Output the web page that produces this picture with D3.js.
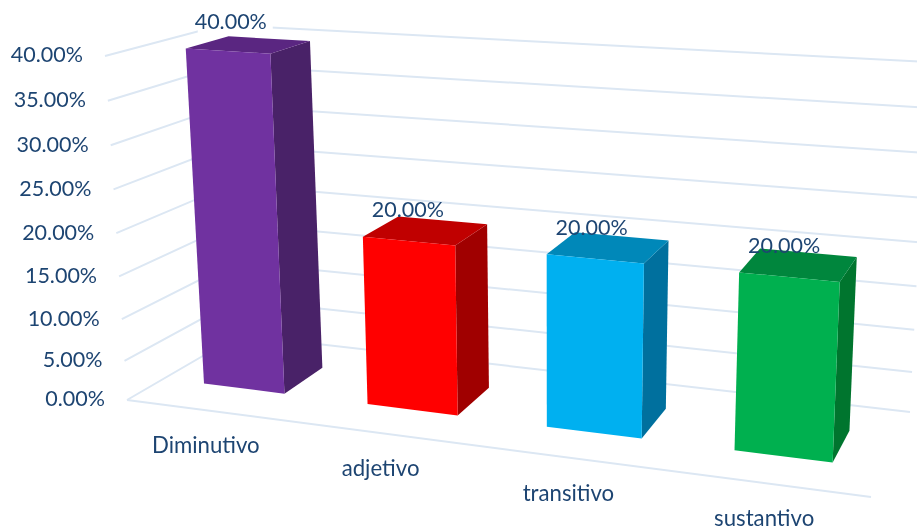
<!DOCTYPE html>
<html><head><meta charset="utf-8">
<style>html,body{margin:0;padding:0;background:#fff;overflow:hidden}svg{display:block}text{font-family:Lato,"Open Sans",sans-serif;fill:#1F4572}</style>
<script src="https://cdn.jsdelivr.net/npm/d3@7"></script>
</head><body><svg id="c" width="917" height="529"></svg>
<script>
const categories = ["Diminutivo","adjetivo","transitivo","sustantivo"];
const values = [0.40,0.20,0.20,0.20];
const valueLabels = ["40.00%","20.00%","20.00%","20.00%"];
const ticks = [0,0.05,0.10,0.15,0.20,0.25,0.30,0.35,0.40];
const frontColors = ["#7030A0","#FF0000","#00B0F0","#00B050"];
const topColors = ["#5A2581","#C00000","#0088B9","#00863D"];
const sideColors = ["#4A2067","#A00000","#00709E","#00752F"];

// box corners of the 3D plot on screen
const box={floor:{fl:[127,400],fr:[871,497],bl:[239,335],br:[910,412]},
           roof:{fl:[105,56],fr:[888,109],bl:[222,25],br:[928,62]}};
const band=d3.scaleBand().domain(categories).range([0,1]).paddingInner(0.49).paddingOuter(0.245);
const catP=d3.scalePow().exponent(1.1).domain([0,1]).range([0.01,0.995]);
const valP=d3.scalePow().exponent(1.044).domain([0,0.4]).range([0,1]);
const depth=d3.scaleLinear().domain([0,1]).range([0.33,0.71]);
const lerp=(a,b,t)=>[a[0]+(b[0]-a[0])*t,a[1]+(b[1]-a[1])*t];
function proj(c,d,v){
  const plane=p=>lerp(lerp(p.fl,p.fr,c),lerp(p.bl,p.br,c),d);
  return lerp(plane(box.floor),plane(box.roof),valP(v));
}
const line=d3.line();
const svg=d3.select("#c");
svg.append("defs").append("filter").attr("id","soft").attr("x",0).attr("y",0).attr("width",1).attr("height",1)
  .attr("filterUnits","objectBoundingBox")
  .append("feGaussianBlur").attr("stdDeviation",0.45);
const root=svg.append("g").attr("filter","url(#soft)");
root.append("rect").attr("width",917).attr("height",529).attr("fill","#fff");
// gridlines
const gridG=root.append("g").attr("fill","none").attr("stroke","#DCE7F3").attr("stroke-width",2);
gridG.selectAll("path").data(ticks).join("path")
  .attr("d",v=>line([proj(0,0,v),proj(0,1,v),proj(1,1,v)]));
gridG.append("path").attr("d",line([proj(0,0,0),proj(1,0,0)]));
// y tick labels
root.append("g").selectAll("text").data(ticks).join("text")
  .attr("x",v=>proj(0,0,v)[0]-22).attr("y",v=>proj(0,0,v)[1]+1)
  .attr("text-anchor","end").attr("dominant-baseline","middle").attr("font-size",21.5)
  .text(v=>d3.format(".2%")(v));
// category labels
const cx=c=>catP(band(c)+band.bandwidth()/2);
root.append("g").selectAll("text").data(categories).join("text")
  .attr("x",c=>proj(cx(c),0,0)[0]-3).attr("y",c=>proj(cx(c),0,0)[1]+37)
  .attr("text-anchor","middle").attr("dominant-baseline","middle").attr("font-size",22.2)
  .text(c=>c);
// bars
const rows=categories.map((c,i)=>({c,i,v:values[i],c0:catP(band(c)),c1:catP(band(c)+band.bandwidth())}));
// paper behind the tallest bar's label hides the corner of the gridlines
const maxRow=rows[d3.maxIndex(rows,r=>r.v)];
const mp=proj(maxRow.c0,depth(0),maxRow.v);
root.append("rect").attr("x",mp[0]+12).attr("y",mp[1]-36).attr("width",75).attr("height",23).attr("fill","#fff");
const bars=root.append("g").selectAll("g").data(rows).join("g");
bars.append("path").attr("fill",r=>sideColors[r.i]).attr("d",r=>line([proj(r.c1,depth(0),0),proj(r.c1,depth(1),0),proj(r.c1,depth(1),r.v),proj(r.c1,depth(0),r.v)])+"Z");
bars.append("path").attr("fill",r=>topColors[r.i]).attr("d",r=>line([proj(r.c0,depth(0),r.v),proj(r.c1,depth(0),r.v),proj(r.c1,depth(1),r.v),proj(r.c0,depth(1),r.v)])+"Z");
bars.append("path").attr("fill",r=>frontColors[r.i]).attr("d",r=>line([proj(r.c0,depth(0),0),proj(r.c1,depth(0),0),proj(r.c1,depth(0),r.v),proj(r.c0,depth(0),r.v)])+"Z");
// value labels
root.append("g").selectAll("text").data(rows).join("text")
  .attr("x",r=>proj(r.c0,depth(0),r.v)[0]+45).attr("y",r=>proj(r.c0,depth(0),r.v)[1]-25)
  .attr("text-anchor","middle").attr("dominant-baseline","middle").attr("font-size",21.5)
  .text(r=>valueLabels[r.i]);
</script></body></html>
